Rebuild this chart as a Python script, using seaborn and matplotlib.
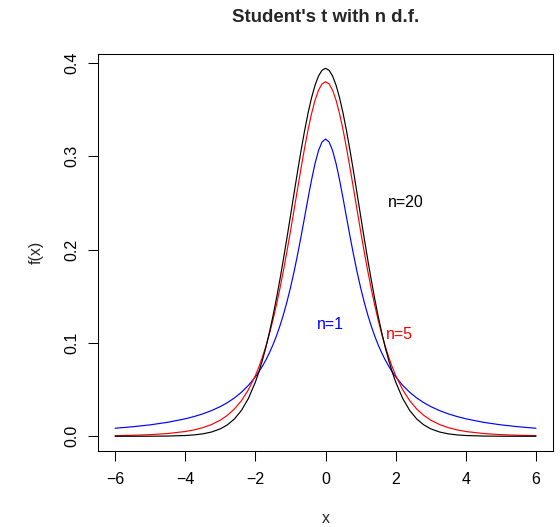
import matplotlib
matplotlib.use("Agg")
import matplotlib.pyplot as plt
import seaborn as sns
import pandas as pd

# x positions (read along the axis)
x = [-6.0, -5.5, -5.0, -4.5, -4.0, -3.75, -3.5, -3.25,
     -3.0, -2.8, -2.6, -2.4, -2.2, -2.0, -1.9, -1.8, -1.7, -1.6, -1.5, -1.4, -1.3, -1.2, -1.1, -1.0,
     -0.9, -0.8, -0.7, -0.6, -0.5, -0.4, -0.3, -0.2, -0.1, 0.0, 0.1, 0.2, 0.3, 0.4, 0.5, 0.6, 0.7, 0.8, 0.9,
     1.0, 1.1, 1.2, 1.3, 1.4, 1.5, 1.6, 1.7, 1.8, 1.9, 2.0, 2.2, 2.4, 2.6, 2.8, 3.0,
     3.25, 3.5, 3.75, 4.0, 4.5, 5.0, 5.5, 6.0]

# density values
f_n1 = [0.00860, 0.01019, 0.01224, 0.01498, 0.01872, 0.02113, 0.02402, 0.02753,
        0.03183, 0.03601, 0.04102, 0.04709, 0.05450, 0.06366, 0.06905, 0.07507, 0.08183, 0.08941, 0.09794,
        0.10754, 0.11833, 0.13045, 0.14403, 0.15915,
        0.17586, 0.19409, 0.21363, 0.23405, 0.25465, 0.27441, 0.29203, 0.30607, 0.31516, 0.31831,
        0.31516, 0.30607, 0.29203, 0.27441, 0.25465, 0.23405, 0.21363, 0.19409, 0.17586,
        0.15915, 0.14403, 0.13045, 0.11833, 0.10754, 0.09794, 0.08941, 0.08183, 0.07507, 0.06905,
        0.06366, 0.05450, 0.04709, 0.04102, 0.03601, 0.03183,
        0.02753, 0.02402, 0.02113, 0.01872, 0.01498, 0.01224, 0.01019, 0.00860]

f_n5 = [0.00069, 0.00108, 0.00176, 0.00295, 0.00512, 0.00685, 0.00924, 0.01259,
        0.01729, 0.02242, 0.02918, 0.03809, 0.04980, 0.06509, 0.07434, 0.08481, 0.09661, 0.10982, 0.12452,
        0.14074, 0.15848, 0.17766, 0.19814, 0.21968,
        0.24195, 0.26449, 0.28677, 0.30814, 0.32792, 0.34537, 0.35983, 0.37064, 0.37734, 0.37961,
        0.37734, 0.37064, 0.35983, 0.34537, 0.32792, 0.30814, 0.28677, 0.26449, 0.24195,
        0.21968, 0.19814, 0.17766, 0.15848, 0.14074, 0.12452, 0.10982, 0.09661, 0.08481, 0.07434,
        0.06509, 0.04980, 0.03809, 0.02918, 0.02242, 0.01729,
        0.01259, 0.00924, 0.00685, 0.00512, 0.00295, 0.00176, 0.00108, 0.00069]

f_n20 = [0.00001, 0.00002, 0.00008, 0.00025, 0.00082, 0.00147, 0.00261, 0.00459,
         0.00797, 0.01223, 0.01852, 0.02763, 0.04049, 0.05809, 0.06900, 0.08145, 0.09551, 0.11125, 0.12864,
         0.14764, 0.16813, 0.18988, 0.21264, 0.23607,
         0.25971, 0.28306, 0.30560, 0.32672, 0.34584, 0.36241, 0.37589, 0.38585, 0.39197, 0.39403,
         0.39197, 0.38585, 0.37589, 0.36241, 0.34584, 0.32672, 0.30560, 0.28306, 0.25971,
         0.23607, 0.21264, 0.18988, 0.16813, 0.14764, 0.12864, 0.11125, 0.09551, 0.08145, 0.06900,
         0.05809, 0.04049, 0.02763, 0.01852, 0.01223, 0.00797,
         0.00459, 0.00261, 0.00147, 0.00082, 0.00025, 0.00008, 0.00002, 0.00001]

series_names = ["n=1", "n=5", "n=20"]
series_colors = ["#0000FF", "#FF0000", "#000000"]
label_pos = {"n=1": (0.15, 0.12), "n=5": (2.1, 0.109), "n=20": (2.3, 0.25)}

x_ticks = [-6, -4, -2, 0, 2, 4, 6]
y_ticks = [0.0, 0.1, 0.2, 0.3, 0.4]
y_tick_labels = ["0.0", "0.1", "0.2", "0.3", "0.4"]

df = pd.DataFrame({
    "x": x * 3,
    "f": f_n1 + f_n5 + f_n20,
    "n": ["n=1"] * len(x) + ["n=5"] * len(x) + ["n=20"] * len(x),
})

sns.set_style("white")
plt.rcParams["font.family"] = ["Liberation Sans", "DejaVu Sans"]

W, H = 560, 527
left, right, top, bottom = 98.3, 552.8, 53.6, 451.0
fig = plt.figure(figsize=(W / 100, H / 100), dpi=100)
ax = fig.add_axes([left / W, 1 - bottom / H, (right - left) / W, (bottom - top) / H])

sns.lineplot(data=df, x="x", y="f", hue="n", hue_order=series_names,
             palette=series_colors, linewidth=0.85, legend=False, ax=ax,
             estimator=None, sort=True)

FS = 11.5
for name, col in zip(series_names, series_colors):
    tx, ty = label_pos[name]
    ax.text(tx, ty, name, color=col, fontsize=FS, ha="center", va="center")

ax.set_xlim(-6.48, 6.48)
ax.set_ylim(-0.01576, 0.40979)
ax.set_xticks(x_ticks)
ax.set_xticklabels([("\u2212" + str(abs(t))) if t < 0 else str(t) for t in x_ticks])
ax.set_yticks(y_ticks)
ax.set_yticklabels(y_tick_labels, rotation=90, va="center")
ax.tick_params(axis="both", direction="out", length=7, width=0.75, color="black",
               labelsize=FS, labelcolor="black", bottom=True, left=True)
ax.tick_params(axis="x", pad=7.8)
ax.tick_params(axis="y", pad=6.8)
for s in ax.spines.values():
    s.set_visible(True)
    s.set_color("black")
    s.set_linewidth(0.75)

ax.set_xlabel("x", fontsize=FS, labelpad=17.5)
ax.set_ylabel("f(x)", fontsize=FS, labelpad=14.5)
ax.set_title("Student's t with n d.f.", fontsize=13.4, fontweight="bold", pad=23)

fig.savefig("out.png", dpi=100)
